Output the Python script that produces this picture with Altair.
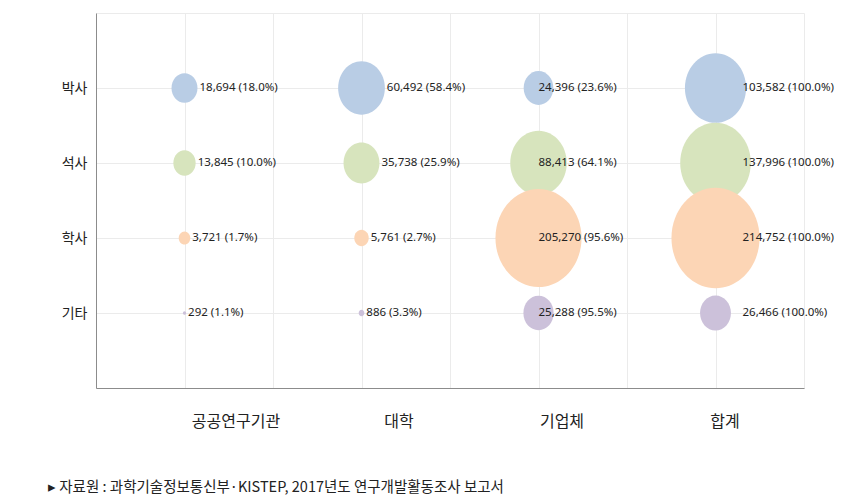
import altair as alt
import pandas as pd
import numpy as np

# ---- data -------------------------------------------------------------
orgs = ["공공연구기관", "대학", "기업체", "합계"]
degrees = ["박사", "석사", "학사", "기타"]

phd = [18694, 60492, 24396, 103582]
masters = [13845, 35738, 88413, 137996]
bachelors = [3721, 5761, 205270, 214752]
others = [292, 886, 25288, 26466]

phd_pct = [18.0, 58.4, 23.6, 100.0]
masters_pct = [10.0, 25.9, 64.1, 100.0]
bachelors_pct = [1.7, 2.7, 95.6, 100.0]
others_pct = [1.1, 3.3, 95.5, 100.0]

colors = ["#B9CDE5", "#D7E4BD", "#FCD5B5", "#CCC1DA"]
source_note = "▸ 자료원 : 과학기술정보통신부·KISTEP, 2017년도 연구개발활동조사 보고서"

# ---- layout constants ----------------------------------------------
W, H = 708, 375
X_UNITS, Y_UNITS = 8, 5
PX_PER_X = W / X_UNITS
K = 0.0361            # px^2 of symbol per unit of value
RY = 1.14             # ellipse vertical stretch

series_vals = [phd, masters, bachelors, others]
series_pct = [phd_pct, masters_pct, bachelors_pct, others_pct]

rows = []
for di, deg in enumerate(degrees):
    for oi, org in enumerate(orgs):
        v = series_vals[di][oi]
        p = series_pct[di][oi]
        rows.append({
            "degree": deg,
            "org": org,
            "value": v,
            "pos": 2 * oi + 1,
            "ypos": len(degrees) - di,
            "label": f"{v:,} ({p:.1f}%)",
            "draw": di * 10 + oi,
        })
df = pd.DataFrame(rows)

# label placement (Excel-like: right of bubble, nudged per column)
r_px = np.sqrt(K * df["value"]) / 2
off = np.where(df["org"] == "기업체", 0.0,
               np.where(df["org"] == "합계", 27.0, r_px + 2))
df["xlab"] = df["pos"] + off / PX_PER_X

c = 0.5523
e = (f"M 1 0 C 1 {c*RY:.4f} {c:.4f} {RY} 0 {RY} "
     f"C {-c:.4f} {RY} -1 {c*RY:.4f} -1 0 "
     f"C -1 {-c*RY:.4f} {-c:.4f} {-RY} 0 {-RY} "
     f"C {c:.4f} {-RY} 1 {-c*RY:.4f} 1 0 Z")

label_expr = " : ".join(
    [f"datum.value == {len(degrees) - i} ? '{d}'" for i, d in enumerate(degrees)]
) + " : ''"

GRID = "#EBEBEB"
AXIS = "#8C8C8C"

x_enc = alt.X("pos:Q",
              scale=alt.Scale(domain=[0, X_UNITS], nice=False, zero=False),
              axis=alt.Axis(values=list(range(X_UNITS + 1)), labels=False, ticks=False,
                            grid=True, gridColor=GRID, domainColor=AXIS, title=None))
y_enc = alt.Y("ypos:Q",
              scale=alt.Scale(domain=[0, Y_UNITS], nice=False, zero=False),
              axis=alt.Axis(values=list(range(Y_UNITS + 1)), labelExpr=label_expr,
                            ticks=False, grid=True, gridColor=GRID, domainColor=AXIS,
                            labelFont="Noto Sans CJK KR", labelFontSize=14,
                            labelColor="#222222", labelPadding=9, title=None))

maxv = float(df["value"].max())
bubbles = alt.Chart(df).mark_point(filled=True, opacity=1, shape=e, strokeWidth=0).encode(
    x=x_enc,
    y=y_enc,
    size=alt.Size("value:Q", scale=alt.Scale(domain=[0, maxv], range=[0, K * maxv]), legend=None),
    color=alt.Color("degree:N", scale=alt.Scale(domain=degrees, range=colors), legend=None),
    order=alt.Order("draw:Q"),
)

labels = alt.Chart(df).mark_text(align="left", baseline="middle", font="Noto Sans",
                                 fontSize=11.5, color="#222222").encode(
    x=alt.X("xlab:Q"),
    y=alt.Y("ypos:Q"),
    text="label:N",
)

# category captions below the plot (placed like the original's header row)
first_px, step_px = 140, 163
cat_df = pd.DataFrame({"org": orgs})
cat_df["cx"] = [(first_px + step_px * i) / PX_PER_X for i in range(len(orgs))]
cat_labels = alt.Chart(cat_df).mark_text(baseline="middle", font="Noto Sans CJK KR",
                                         fontSize=16, color="#222222").encode(
    x=alt.X("cx:Q"),
    y=alt.value(H + 34),
    text="org:N",
)

note = alt.Chart(pd.DataFrame({"t": [source_note]})).mark_text(
    align="left", baseline="middle", font="Noto Sans CJK KR", fontSize=14.5, color="#222222"
).encode(
    x=alt.value(-48),
    y=alt.value(H + 100),
    text="t:N",
)

chart = alt.layer(bubbles, labels, cat_labels, note).properties(
    width=W, height=H,
    autosize=alt.AutoSizeParams(type="none"),
    padding={"left": 96, "top": 13, "right": 860 - 96 - W, "bottom": 499 - 13 - H},
).configure_view(strokeWidth=0).configure_axis(domainWidth=1, gridWidth=1)

chart.save("out.html", embed_options={"renderer": "svg", "actions": False})
